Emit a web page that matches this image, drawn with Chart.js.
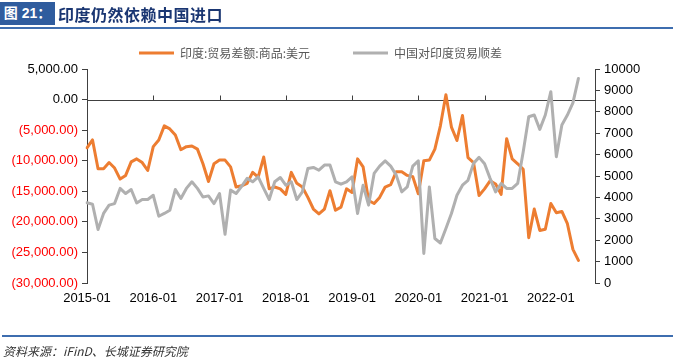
<!DOCTYPE html>
<html>
<head>
<meta charset="utf-8">
<script src="https://cdn.jsdelivr.net/npm/chart.js@4.4.1/dist/chart.umd.min.js"></script>
<style>
  html, body { margin: 0; padding: 0; background: #fff; }
  #wrap { position: relative; width: 673px; height: 360px; overflow: hidden; }
  #c { position: absolute; left: 0; top: 0; }
  .hdrbox { position: absolute; left: 0; top: 2px; width: 55px; height: 23px; background: #2F5C9E;
            color: #fff; font: bold 14px "Liberation Sans", "Noto Sans CJK SC", sans-serif; line-height: 23px; text-align: center; }
  .hdrtitle { position: absolute; left: 58px; top: 2px; height: 24px; line-height: 24px;
              font: bold 16px "Noto Sans CJK SC", sans-serif; color: #1A3672; letter-spacing: 0.5px; }
  .hline { position: absolute; left: 0; top: 27px; width: 673px; height: 2px; background: #3E6DAF; }
  .fline { position: absolute; left: 2px; top: 335px; width: 671px; height: 2px; background: #3E6DAF; }
  .foot { position: absolute; left: 3px; top: 342px; font: italic 12px "Noto Sans CJK SC", serif; color: #333; }
</style>
</head>
<body>
<div id="wrap">
  <canvas id="c" width="673" height="360"></canvas>
  <div class="hdrbox">图 21：</div>
  <div class="hdrtitle">印度仍然依赖中国进口</div>
  <div class="hline"></div>
  <div class="fline"></div>
  <div class="foot">资料来源：iFinD、长城证券研究院</div>
</div>
<script>
// ---- data ----
const seriesNames = ['印度:贸易差额:商品:美元', '中国对印度贸易顺差'];

// months 2015-01 .. 2022-09 (axis extent)
const months = [];
for (let y = 2015; y <= 2022; y++) {
  for (let m = 1; m <= 12; m++) {
    if (y === 2022 && m > 9) break;
    months.push(y + '-' + String(m).padStart(2, '0'));
  }
}
const tickLabels = ['2015-01','2016-01','2017-01','2018-01','2019-01','2020-01','2021-01','2022-01'];

// India merchandise trade balance (USD mn), left axis
const indiaBalance = [
  -7900, -6600, -11300, -11300, -10300, -11200, -13000, -12400, -10200, -9700, -10300, -11600,
  -7700, -6600, -4300, -4800, -5800, -8200, -7700, -7600, -8100, -10500, -13400, -10500,
  -9900, -9900, -11000, -14300, -14100, -13700, -11900, -12700, -9400, -14600, -14300, -14600,
  -15500, -11900, -13700, -14300, -16000, -17900, -18700, -17900, -14900, -18100, -17600, -14600,
  -15200, -9700, -11000, -16500, -17000, -16000, -14300, -13900, -11800, -11800, -12400, -12600,
  -15400, -10000, -9900, -8100, -4300, 800, -4500, -6700, -2600, -9500, -10300, -15700,
  -14600, -13300, -13800, -15500, -6400, -9700, -10500, -11400, -22600, -17900, -21400, -21200,
  -17000, -18500, -18300, -20300, -24500, -26300
];

// China trade surplus with India (USD mn), right axis
const chinaSurplus = [
  3750, 3680, 2500, 3250, 3640, 3710, 4420, 4180, 4370, 3740, 3900, 3900,
  4100, 3120, 3250, 3400, 4370, 3950, 4420, 4730, 4420, 4020, 4070, 3710,
  4180, 2280, 4340, 4180, 4520, 4890, 4730, 4960, 4420, 3900, 4730, 4930,
  4570, 4730, 3900, 4260, 5350, 5400, 5270, 5510, 5510, 4730, 4620, 4730,
  4960, 3250, 4570, 3640, 5120, 5460, 5710, 5460, 5040, 4260, 4490, 5460,
  5710, 1380, 4490, 2080, 1870, 2550, 3250, 4100, 4570, 4800, 5590, 5870,
  5570, 4890, 4260, 4650, 4420, 4420, 4650, 6130, 7770, 7850, 7180, 7850,
  8940, 5900, 7380, 7850, 8420, 9560
];

const leftTicks = { min: -30000, max: 5000, step: 5000 };
const rightTicks = { min: 0, max: 10000, step: 1000 };

// ---- chart ----
const ORANGE = '#ED7D31', GRAY = '#B0B0B0', AXIS = '#404040';

function fmtLeft(v) {
  const s = Math.abs(v).toLocaleString('en-US', { minimumFractionDigits: 2, maximumFractionDigits: 2 });
  return v < 0 ? '(' + s + ')' : s;
}

const zeroAxis = {
  id: 'zeroAxis',
  beforeDatasetsDraw(chart) {
    const { ctx, chartArea, scales } = chart;
    const y0 = Math.round(scales.y.getPixelForValue(0)) + 0.5;
    ctx.save();
    ctx.strokeStyle = AXIS;
    ctx.lineWidth = 1;
    ctx.beginPath();
    ctx.moveTo(chartArea.left, y0);
    ctx.lineTo(chartArea.right, y0);
    tickLabels.forEach(l => {
      const x = Math.round(scales.x.getPixelForValue(months.indexOf(l))) + 0.5;
      ctx.moveTo(x, y0);
      ctx.lineTo(x, y0 - 5);
    });
    ctx.stroke();
    ctx.restore();
  }
};

new Chart(document.getElementById('c'), {
  type: 'line',
  data: {
    labels: months,
    datasets: [
      {
        label: seriesNames[1], data: chinaSurplus, yAxisID: 'y2',
        borderColor: GRAY, backgroundColor: GRAY, borderWidth: 3,
        pointRadius: 0, tension: 0, borderJoinStyle: 'round', borderCapStyle: 'round'
      },
      {
        label: seriesNames[0], data: indiaBalance, yAxisID: 'y',
        borderColor: ORANGE, backgroundColor: ORANGE, borderWidth: 3,
        pointRadius: 0, tension: 0, borderJoinStyle: 'round', borderCapStyle: 'round'
      }
    ]
  },
  options: {
    responsive: false,
    animation: false,
    devicePixelRatio: 1,
    layout: { padding: { left: 0, right: 32, top: 4, bottom: 47 } },
    plugins: {
      tooltip: { enabled: false },
      legend: {
        position: 'top',
        labels: {
          boxWidth: 35, boxHeight: 3, padding: 43,
          color: '#595959',
          font: { family: '"Noto Sans CJK SC", sans-serif', size: 12 },
          sort: (a, b) => b.datasetIndex - a.datasetIndex,
          generateLabels(chart) {
            const items = Chart.defaults.plugins.legend.labels.generateLabels(chart);
            items.forEach(it => { it.lineWidth = 0; });
            return items;
          }
        }
      }
    },
    scales: {
      x: {
        type: 'category',
        offset: false,
        grid: { display: false, drawTicks: false },
        border: { display: false },
        ticks: {
          autoSkip: false, maxRotation: 0, padding: 8, color: '#000',
          font: { family: '"Liberation Sans", Arial, sans-serif', size: 13 },
          callback(val, idx) { const l = months[idx]; return tickLabels.includes(l) ? l : null; }
        },
        afterFit(s) { s.height = 30; }
      },
      y: {
        position: 'left',
        min: leftTicks.min, max: leftTicks.max,
        grid: { display: true, drawOnChartArea: false, drawTicks: true, tickLength: 5, color: AXIS },
        border: { display: true, color: AXIS, width: 1 },
        ticks: {
          stepSize: leftTicks.step, padding: 4,
          color: c => (c.tick && c.tick.value < 0) ? '#FF0000' : '#000',
          font: { family: '"Liberation Sans", Arial, sans-serif', size: 13 },
          callback: v => fmtLeft(v)
        },
        afterFit(s) { s.width = 87; }
      },
      y2: {
        position: 'right',
        min: rightTicks.min, max: rightTicks.max,
        grid: { display: true, drawOnChartArea: false, drawTicks: true, tickLength: 5, color: AXIS },
        border: { display: true, color: AXIS, width: 1 },
        ticks: {
          stepSize: rightTicks.step, padding: 4, color: '#000',
          font: { family: '"Liberation Sans", Arial, sans-serif', size: 13 },
          callback: v => String(v)
        },
        afterFit(s) { s.width = 46; }
      }
    }
  },
  plugins: [zeroAxis]
});
</script>
</body>
</html>
